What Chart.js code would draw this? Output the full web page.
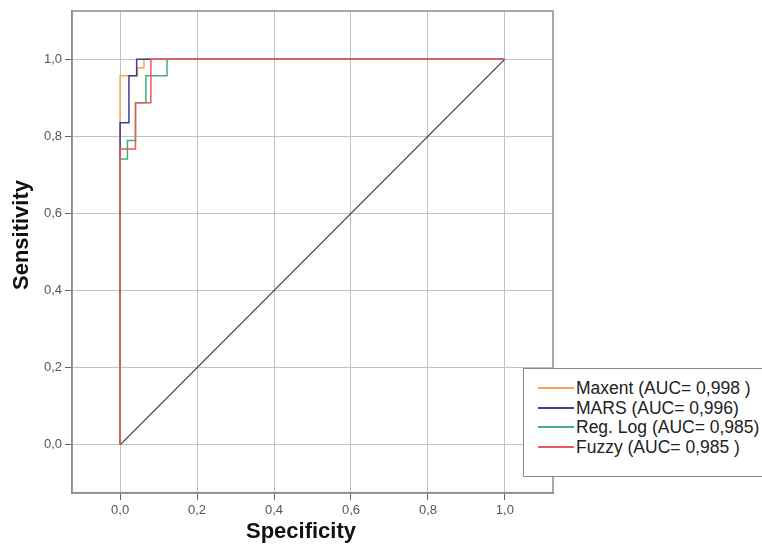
<!DOCTYPE html>
<html>
<head>
<meta charset="utf-8">
<script src="https://cdn.jsdelivr.net/npm/chart.js@4"></script>
<style>
  body { margin: 0; background: #fff; }
  #wrap { position: relative; width: 762px; height: 547px; overflow: hidden; }
  #rocLegend {
    position: absolute; left: 523px; top: 368px; width: 260px; height: 109px;
    background: #fff; border: 1px solid #8a8a8a; box-sizing: border-box;
    font-family: "Liberation Sans", Arial, sans-serif; font-size: 17.5px; color: #222;
    padding-top: 10px;
  }
  .row { height: 19.5px; line-height: 19.5px; white-space: nowrap; }
  .swatch { display: inline-block; width: 36px; height: 2px; margin: 0 2px 0 14px; vertical-align: middle; position: relative; top: -1px; }
</style>
</head>
<body>
<div id="wrap">
  <canvas id="rocChart" width="762" height="547"></canvas>
  <div id="rocLegend"></div>
</div>
<script>
// ROC curves (x = specificity axis as labelled in the source, y = sensitivity)
const seriesNames = ["Maxent (AUC= 0,998 )", "MARS (AUC= 0,996)", "Reg. Log (AUC= 0,985)", "Fuzzy (AUC= 0,985 )"];
const seriesColors = ["#f4a84e", "#3e3f8c", "#3fb07c", "#e8585c"];

const maxentX = [0, 0, 0.045, 0.045, 0.062, 0.062, 1];
const maxentY = [0, 0.957, 0.957, 0.978, 0.978, 1, 1];
const marsX = [0, 0, 0.023, 0.023, 0.043, 0.043, 1];
const marsY = [0, 0.835, 0.835, 0.957, 0.957, 1, 1];
const regLogX = [0, 0, 0.019, 0.019, 0.04, 0.04, 0.067, 0.067, 0.122, 0.122, 1];
const regLogY = [0, 0.741, 0.741, 0.789, 0.789, 0.887, 0.887, 0.957, 0.957, 1, 1];
const fuzzyX = [0, 0, 0.04, 0.04, 0.08, 0.08, 1];
const fuzzyY = [0, 0.767, 0.767, 0.887, 0.887, 1, 1];
const refX = [0, 1];
const refY = [0, 1];

const tickValues = [0, 0.2, 0.4, 0.6, 0.8, 1.0];
const xTitle = "Specificity";
const yTitle = "Sensitivity";

const curvesX = [maxentX, marsX, regLogX, fuzzyX];
const curvesY = [maxentY, marsY, regLogY, fuzzyY];

function toPoints(xs, ys) {
  return xs.map((x, i) => ({ x: x, y: ys[i] }));
}

const datasets = curvesX.map((xs, i) => ({
  label: seriesNames[i],
  data: toPoints(xs, curvesY[i]),
  borderColor: seriesColors[i],
  borderWidth: 1.5,
  order: 4 - i
}));
datasets.push({
  label: "ref",
  data: toPoints(refX, refY),
  borderColor: "#3a3a3a",
  borderWidth: 1.2,
  order: 10
});

const fontFamily = "'Liberation Sans', Arial, sans-serif";

// top + right frame of the plot area
const frame = {
  id: "frame",
  beforeDatasetsDraw(chart) {
    const a = chart.chartArea;
    const ctx = chart.ctx;
    ctx.save();
    ctx.strokeStyle = "#8c8c8c";
    ctx.lineWidth = 1.5;
    ctx.strokeRect(a.left, a.top, a.right - a.left, a.bottom - a.top);
    ctx.restore();
  }
};

// axis titles sit a bit off-centre in the source, so place them by hand
const axisTitles = {
  id: "axisTitles",
  afterDraw(chart) {
    const a = chart.chartArea;
    const ctx = chart.ctx;
    ctx.save();
    ctx.fillStyle = "#111";
    ctx.font = "bold 22px " + fontFamily;
    ctx.textAlign = "center";
    ctx.textBaseline = "alphabetic";
    ctx.fillText(xTitle, a.left + 229, a.bottom + 45);
    ctx.translate(28, a.top + 224);
    ctx.rotate(-Math.PI / 2);
    ctx.fillText(yTitle, 0, 0);
    ctx.restore();
  }
};

function axisOptions(fitKey, fitSize) {
  return {
    type: "linear",
    min: -0.125,
    max: 1.125,
    afterBuildTicks: scale => { scale.ticks = tickValues.map(v => ({ value: v })); },
    afterFit: scale => { scale[fitKey] = fitSize; },
    ticks: {
      color: "#555",
      padding: 3,
      font: { family: fontFamily, size: 13 },
      callback: v => v.toFixed(1).replace(".", ",")
    },
    grid: { color: "#c2c2c2", lineWidth: 1, tickColor: "#666", tickLength: 7 },
    border: { display: true, color: "#8c8c8c", width: 1.5 }
  };
}

new Chart(document.getElementById("rocChart"), {
  type: "scatter",
  data: { datasets: datasets },
  options: {
    responsive: false,
    animation: false,
    devicePixelRatio: 1,
    showLine: true,
    layout: { padding: { top: 11, right: 209, left: 0, bottom: 0 } },
    elements: { point: { radius: 0 }, line: { tension: 0 } },
    plugins: { legend: { display: false }, tooltip: { enabled: false } },
    scales: {
      x: axisOptions("height", 54),
      y: axisOptions("width", 72)
    }
  },
  plugins: [frame, axisTitles]
});

// legend box drawn over the lower right corner, like the source
const legendBox = document.getElementById("rocLegend");
seriesNames.forEach((name, i) => {
  const row = document.createElement("div");
  row.className = "row";
  row.innerHTML = `<span class="swatch" style="background:${seriesColors[i]}"></span>${name}`;
  legendBox.appendChild(row);
});
</script>
</body>
</html>
